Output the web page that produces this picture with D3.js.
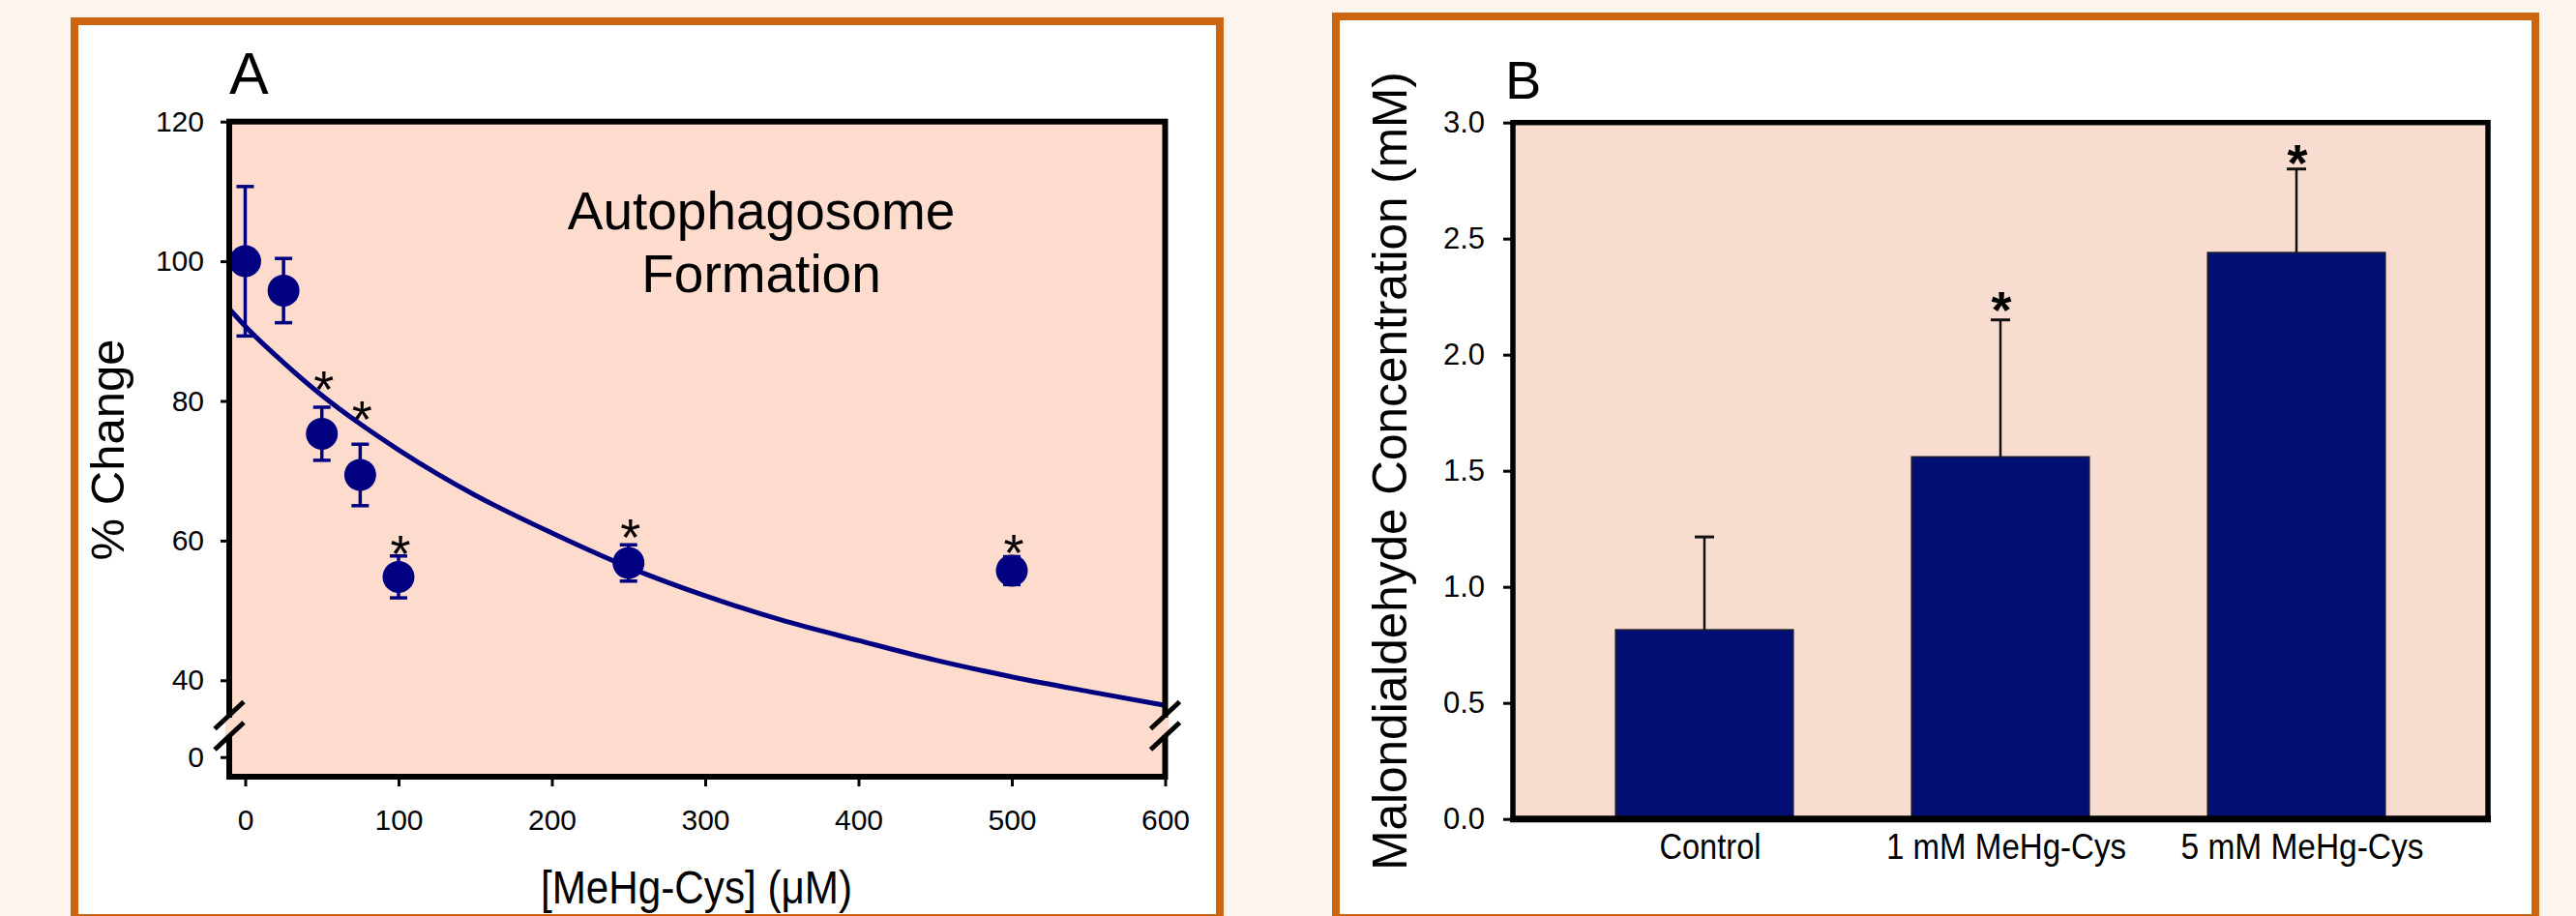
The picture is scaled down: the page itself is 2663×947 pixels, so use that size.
<!DOCTYPE html>
<html>
<head>
<meta charset="utf-8">
<script src="https://cdn.jsdelivr.net/npm/d3@7"></script>
<style>
  body { margin: 0; background: #fdf4ee; }
  svg { display: block; }
  text { font-family: "Liberation Sans", Arial, sans-serif; fill: #000; }
</style>
</head>
<body>
<svg id="fig" width="2663" height="947"></svg>
<script>
// ---- panel A: autophagosome formation vs dose ----
const doseA = [0, 25, 50, 75, 100, 250, 500];
const pctChange = [100.0, 95.8, 75.3, 69.4, 54.8, 56.8, 55.7];
const pctErr = [10.7, 4.6, 3.8, 4.4, 3.0, 2.6, 2.0];

// fitted decay curve
const fitDose = [-10, 0, 25, 50, 75, 100, 125, 150, 200, 250, 300, 350, 400, 450, 500, 550, 600];
const fitPct = [93.1, 90.7, 85.5, 80.8, 76.7, 73.0, 69.6, 66.5, 61.1, 56.2, 52.1, 48.6, 45.7, 42.9, 40.5, 38.4, 36.4];

const starDoseA = [50, 75, 100, 250, 500];
const starPctA = [83.4, 79.1, 59.9, 62.2, 60.0];

const xTicksA = [0, 100, 200, 300, 400, 500, 600];
const yTicksA = [40, 60, 80, 100, 120];

// ---- panel B: malondialdehyde ----
const groupsB = ["Control", "1 mM MeHg-Cys", "5 mM MeHg-Cys"];
const mdaConc = [0.815, 1.56, 2.44];
const mdaErr = [0.40, 0.59, 0.36];
const starLevelB = [null, 2.245, 2.878];
const yTicksB = [0, 0.5, 1.0, 1.5, 2.0, 2.5, 3.0];

const navy = "#000080";
const orange = "#cb6510";

const svg = d3.select("#fig");

// outer framed boxes
svg.append("rect").attr("x", 77).attr("y", 22).attr("width", 1184).attr("height", 927)
  .attr("fill", "#fff").attr("stroke", orange).attr("stroke-width", 8);
svg.append("rect").attr("x", 1381).attr("y", 17).attr("width", 1240).attr("height", 932)
  .attr("fill", "#fff").attr("stroke", orange).attr("stroke-width", 8);

// ================= Panel A =================
const A = { left: 237, right: 1204.5, top: 125.7, bottom: 803 };

const xA = d3.scaleLinear().domain([-10.4, 600]).range([A.left, A.right]);
const yA = d3.scaleLinear().domain([40, 120]).range([703.3, A.top]);
// segment below the axis break
const yA0 = d3.scaleLinear().domain([-2.8, 0]).range([A.bottom, 782.7]);

const gA = svg.append("g");

gA.append("rect").attr("x", A.left).attr("y", A.top)
  .attr("width", A.right - A.left).attr("height", A.bottom - A.top)
  .attr("fill", "#fddccd");

gA.append("clipPath").attr("id", "clipA").append("rect")
  .attr("x", A.left).attr("y", A.top)
  .attr("width", A.right - A.left).attr("height", A.bottom - A.top);

// fit line
const fitLine = d3.line().x(d => xA(d[0])).y(d => yA(d[1])).curve(d3.curveMonotoneX);
gA.append("path")
  .datum(fitDose.map((d, i) => [d, fitPct[i]]))
  .attr("d", fitLine)
  .attr("clip-path", "url(#clipA)")
  .attr("fill", "none").attr("stroke", navy).attr("stroke-width", 5);

// error bars
const ptsA = doseA.map((d, i) => ({ x: d, y: pctChange[i], e: pctErr[i] }));
const eb = gA.append("g").attr("stroke", navy).attr("stroke-width", 3.5);
ptsA.forEach(p => {
  eb.append("line").attr("x1", xA(p.x)).attr("x2", xA(p.x))
    .attr("y1", yA(p.y + p.e)).attr("y2", yA(p.y - p.e));
  [p.y + p.e, p.y - p.e].forEach(v => {
    eb.append("line").attr("x1", xA(p.x) - 9).attr("x2", xA(p.x) + 9)
      .attr("y1", yA(v)).attr("y2", yA(v));
  });
});

gA.selectAll("circle.pt").data(ptsA).enter().append("circle")
  .attr("class", "pt")
  .attr("cx", d => xA(d.x)).attr("cy", d => yA(d.y))
  .attr("r", 16.5).attr("fill", navy);

// asterisks
gA.selectAll("text.star").data(starDoseA).enter().append("text")
  .attr("class", "star")
  .attr("x", d => xA(d) + 2).attr("y", (d, i) => yA(starPctA[i]))
  .attr("dy", "0.58em").attr("text-anchor", "middle")
  .style("font-size", "54px").text("*");

// axes
const yAxisA = gA.append("g").attr("transform", `translate(${A.left},0)`)
  .call(d3.axisLeft(yA).tickValues(yTicksA).tickSize(9).tickPadding(17));
const yAxisA0 = gA.append("g").attr("transform", `translate(${A.left},0)`)
  .call(d3.axisLeft(yA0).tickValues([0]).tickFormat(d3.format("d")).tickSize(9).tickPadding(17));
const xAxisA = gA.append("g").attr("transform", `translate(0,${A.bottom})`)
  .call(d3.axisBottom(xA).tickValues(xTicksA).tickSize(10).tickPadding(24));
[yAxisA, yAxisA0, xAxisA].forEach(ax => {
  ax.select(".domain").remove();
  ax.selectAll(".tick line").attr("stroke", "#000").attr("stroke-width", 3);
  ax.selectAll(".tick text").style("font-size", "30px")
    .style("font-family", '"Liberation Sans", Arial, sans-serif').attr("fill", "#000");
});

// frame
gA.append("rect").attr("x", A.left).attr("y", A.top)
  .attr("width", A.right - A.left).attr("height", A.bottom - A.top)
  .attr("fill", "none").attr("stroke", "#000").attr("stroke-width", 6);

// axis breaks on both sides
[A.left, A.right].forEach(bx => {
  gA.append("rect").attr("x", bx - 4).attr("y", 742).attr("width", 8).attr("height", 18)
    .attr("fill", "#fddccd");
  [739.5, 761].forEach(cy => {
    gA.append("line").attr("x1", bx - 15).attr("y1", cy + 14)
      .attr("x2", bx + 15).attr("y2", cy - 14)
      .attr("stroke", "#000").attr("stroke-width", 5);
  });
});

// labels
gA.append("text").attr("x", 237).attr("y", 97).style("font-size", "61px").text("A");
gA.append("text").attr("transform", "translate(128,465) rotate(-90)")
  .attr("text-anchor", "middle").style("font-size", "49px").text("% Change");
gA.append("text").attr("x", 720).attr("y", 934).attr("text-anchor", "middle")
  .attr("textLength", 322).attr("lengthAdjust", "spacingAndGlyphs")
  .style("font-size", "48px").text("[MeHg-Cys] (\u03bcM)");
gA.append("text").attr("x", 787).attr("y", 236.7).attr("text-anchor", "middle")
  .style("font-size", "55px").text("Autophagosome");
gA.append("text").attr("x", 787).attr("y", 301.7).attr("text-anchor", "middle")
  .style("font-size", "55px").text("Formation");

// ================= Panel B =================
const B = { left: 1564, right: 2572, top: 126.7, bottom: 846.7 };

const xB = d3.scaleBand().domain(groupsB).range([B.left, B.right])
  .paddingInner(0.4).paddingOuter(0.347);
const yB = d3.scaleLinear().domain([0, 3]).range([B.bottom, B.top]);

const gB = svg.append("g");
gB.append("rect").attr("x", B.left).attr("y", B.top)
  .attr("width", B.right - B.left).attr("height", B.bottom - B.top)
  .attr("fill", "#f8dccf");

const barsB = groupsB.map((g, i) => ({ g, v: mdaConc[i], e: mdaErr[i], s: starLevelB[i] }));

// error bars (upper only)
barsB.forEach(d => {
  const cx = xB(d.g) + xB.bandwidth() / 2;
  gB.append("line").attr("x1", cx).attr("x2", cx)
    .attr("y1", yB(d.v)).attr("y2", yB(d.v + d.e))
    .attr("stroke", "#111").attr("stroke-width", 2.5);
  gB.append("line").attr("x1", cx - 10).attr("x2", cx + 10)
    .attr("y1", yB(d.v + d.e)).attr("y2", yB(d.v + d.e))
    .attr("stroke", "#111").attr("stroke-width", 3);
});

gB.selectAll("rect.bar").data(barsB).enter().append("rect")
  .attr("class", "bar")
  .attr("x", d => xB(d.g)).attr("y", d => yB(d.v))
  .attr("width", xB.bandwidth()).attr("height", d => yB(0) - yB(d.v))
  .attr("fill", "#010f74").attr("stroke", "#1a1a2a").attr("stroke-width", 1.5);

gB.selectAll("text.star").data(barsB.filter(d => d.s !== null)).enter().append("text")
  .attr("class", "star")
  .attr("x", d => xB(d.g) + xB.bandwidth() / 2 + 1).attr("y", d => yB(d.s))
  .attr("dy", "0.58em").attr("text-anchor", "middle")
  .style("font-size", "54px").style("font-weight", "bold").text("*");

const yAxisB = gB.append("g").attr("transform", `translate(${B.left},0)`)
  .call(d3.axisLeft(yB).tickValues(yTicksB).tickFormat(d3.format(".1f")).tickSize(10).tickPadding(19));
yAxisB.select(".domain").remove();
yAxisB.selectAll(".tick line").attr("stroke", "#000").attr("stroke-width", 3);
yAxisB.selectAll(".tick text").style("font-size", "31px").attr("fill", "#000");

// frame: thin top/sides, heavy base
gB.append("rect").attr("x", B.left).attr("y", B.top)
  .attr("width", B.right - B.left).attr("height", B.bottom - B.top)
  .attr("fill", "none").attr("stroke", "#000").attr("stroke-width", 5.5);
gB.append("line").attr("x1", B.left - 3).attr("x2", B.right + 3)
  .attr("y1", B.bottom).attr("y2", B.bottom)
  .attr("stroke", "#000").attr("stroke-width", 7);

// category labels
const catWidth = { "Control": 105, "1 mM MeHg-Cys": 248, "5 mM MeHg-Cys": 251 };
gB.selectAll("text.cat").data(groupsB).enter().append("text")
  .attr("class", "cat")
  .attr("x", d => xB(d) + xB.bandwidth() / 2 + 6).attr("y", 888.3)
  .attr("text-anchor", "middle")
  .attr("textLength", d => catWidth[d]).attr("lengthAdjust", "spacingAndGlyphs")
  .style("font-size", "36px").text(d => d);

gB.append("text").attr("x", 1556).attr("y", 102).style("font-size", "56px").text("B");
gB.append("text").attr("transform", "translate(1454,487) rotate(-90)")
  .attr("text-anchor", "middle").style("font-size", "49.5px")
  .text("Malondialdehyde Concentration (mM)");
</script>
</body>
</html>
